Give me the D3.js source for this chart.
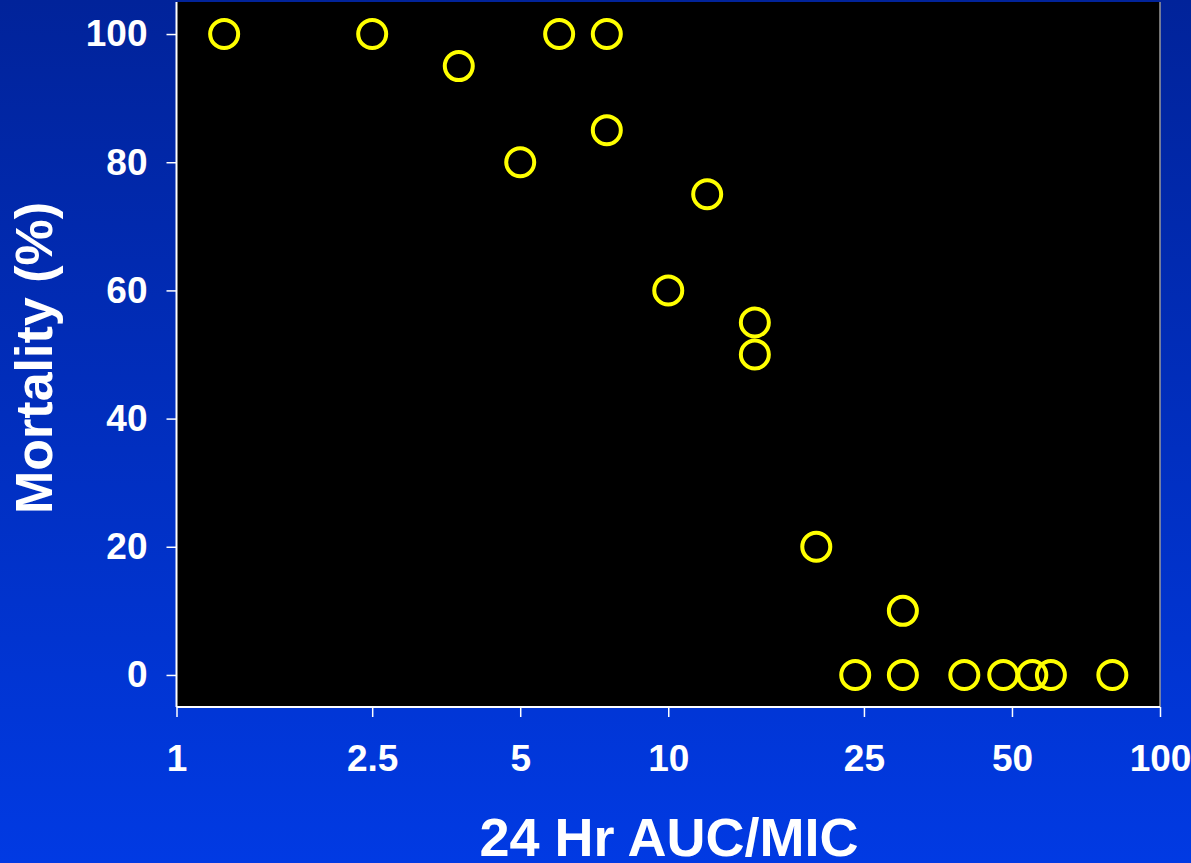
<!DOCTYPE html>
<html>
<head>
<meta charset="utf-8">
<script src="https://cdn.jsdelivr.net/npm/d3@7"></script>
<style>
  html, body { margin: 0; padding: 0; background: #0130c0; overflow: hidden; }
  text { font-family: "Liberation Sans", Arial, sans-serif; font-weight: bold; fill: #fff; }
</style>
</head>
<body>
<div id="chart"></div>
<script>
// data
var aucMic = [1.25, 2.5, 3.75, 5, 6, 7.5, 7.5, 12, 10, 15, 15, 20, 30, 24, 30, 40, 48, 55, 60, 80];
var mortality = [100, 100, 95, 80, 100, 100, 85, 75, 60, 55, 50, 20, 10, 0, 0, 0, 0, 0, 0, 0];
var xTicks = [1, 2.5, 5, 10, 25, 50, 100];
var yTicks = [0, 20, 40, 60, 80, 100];

var points = aucMic.map(function(x, i) { return { x: x, y: mortality[i] }; });

//svg and chart dimensions
var svgWidth = 1191;
var svgHeight = 863;
var margin = { top: 2, right: 31, bottom: 156, left: 176.5 };
var width = svgWidth - margin.left - margin.right;
var height = svgHeight - margin.top - margin.bottom;

var svg = d3.select("#chart").append("svg")
    .attr("width", svgWidth)
    .attr("height", svgHeight);

// background gradient
var grad = svg.append("defs").append("linearGradient")
    .attr("id", "bg")
    .attr("x1", 0).attr("y1", 0).attr("x2", 0).attr("y2", 1);
grad.append("stop").attr("offset", "0%").attr("stop-color", "#01239a");
grad.append("stop").attr("offset", "100%").attr("stop-color", "#013ae3");

svg.append("rect")
    .attr("width", svgWidth)
    .attr("height", svgHeight)
    .attr("fill", "url(#bg)");

var chartGroup = svg.append("g")
    .attr("transform", `translate(${margin.left}, ${margin.top})`);

// scales
var xLogScale = d3.scaleLog()
    .domain([1, 100])
    .range([0, width]);

var yLinearScale = d3.scaleLinear()
    .domain([-5, 105])
    .range([height, 0]);

// plot area
chartGroup.append("rect")
    .attr("width", width)
    .attr("height", height)
    .attr("fill", "#000");

chartGroup.append("line")
    .attr("x1", width).attr("x2", width)
    .attr("y1", 0).attr("y2", height)
    .attr("stroke", "#9a9a9a")
    .attr("stroke-width", 1.5);

// axes
var bottomAxis = d3.axisBottom(xLogScale)
    .tickValues(xTicks)
    .tickFormat(d3.format(""))
    .tickSize(10)
    .tickPadding(28);

var leftAxis = d3.axisLeft(yLinearScale)
    .tickValues(yTicks)
    .tickSize(10)
    .tickPadding(19);

var xAxisG = chartGroup.append("g")
    .attr("transform", `translate(0, ${height})`)
    .call(bottomAxis);

var yAxisG = chartGroup.append("g")
    .call(leftAxis);

[xAxisG, yAxisG].forEach(function(g) {
  g.select(".domain").attr("stroke", "#fff").attr("stroke-width", 2);
  g.selectAll(".tick line").attr("stroke", "#fff").attr("stroke-width", 1.5);
  g.selectAll(".tick text")
    .attr("fill", "#fff")
    .style("font-size", "37px")
    .style("font-family", "'Liberation Sans', Arial, sans-serif")
    .style("font-weight", "bold");
});
yAxisG.select(".domain").attr("d", `M0,0V${height}`);
xAxisG.select(".domain").attr("d", `M0,0H${width}`);

// axis labels
svg.append("text")
    .attr("x", 669)
    .attr("y", 856)
    .attr("text-anchor", "middle")
    .style("font-size", "54px")
    .text("24 Hr AUC/MIC");

svg.append("text")
    .attr("transform", "translate(52, 358) rotate(-90)")
    .attr("text-anchor", "middle")
    .style("font-size", "52px")
    .text("Mortality (%)");

// circles
chartGroup.selectAll("circle")
    .data(points)
    .enter()
    .append("circle")
    .attr("cx", d => xLogScale(d.x))
    .attr("cy", d => yLinearScale(d.y))
    .attr("r", 14)
    .attr("fill", "none")
    .attr("stroke", "#ffff00")
    .attr("stroke-width", 4);
</script>
</body>
</html>
